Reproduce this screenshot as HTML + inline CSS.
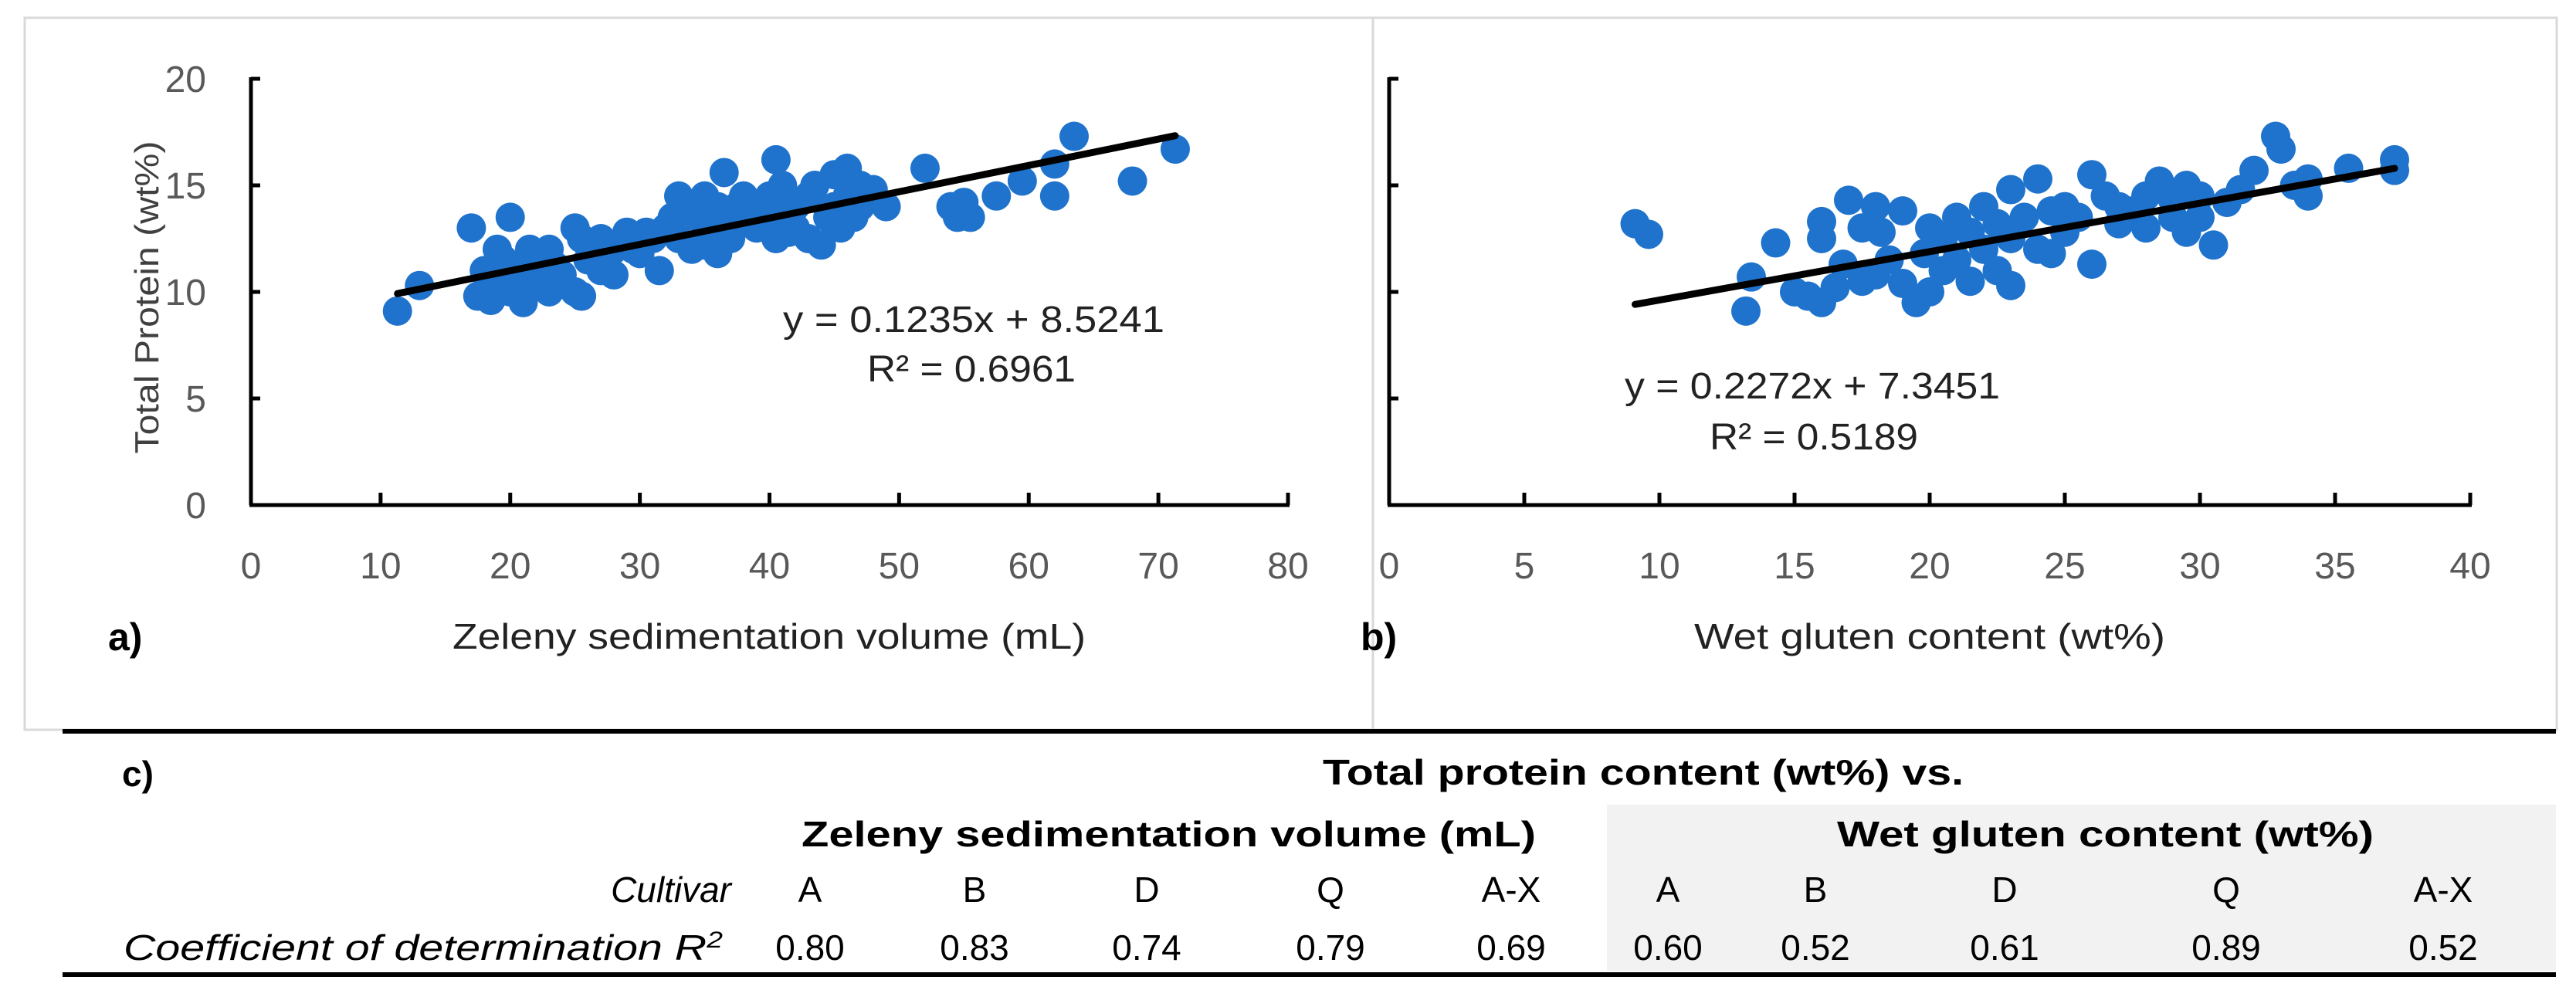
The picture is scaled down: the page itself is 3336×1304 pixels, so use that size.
<!DOCTYPE html>
<html><head><meta charset="utf-8">
<style>
html,body{margin:0;padding:0;background:#fff;}
svg{display:block;}
text{font-family:"Liberation Sans",sans-serif;}
</style></head>
<body>
<svg id="fig" width="3336" height="1304" viewBox="0 0 3336 1304" xmlns="http://www.w3.org/2000/svg">
  <rect x="32" y="23" width="1746" height="922" fill="none" stroke="#d9d9d9" stroke-width="3"/>
  <rect x="1778" y="23" width="1533" height="922" fill="none" stroke="#d9d9d9" stroke-width="3"/>
  <g id="chartA"></g>
  <g id="chartB"></g>

  <g>
    <rect x="81" y="944" width="3229" height="6" fill="#000"/>
    <rect x="2081" y="1042" width="1229" height="215" fill="#f2f2f2"/>
    <rect x="81" y="1259" width="3229" height="6" fill="#000"/>
    <text x="158" y="1018" font-size="46" font-weight="bold">c)</text>
    <text x="1713" y="1016" font-size="46" font-weight="bold" textLength="830" lengthAdjust="spacingAndGlyphs">Total protein content (wt%) vs.</text>
    <text x="1038" y="1096" font-size="46" font-weight="bold" textLength="951" lengthAdjust="spacingAndGlyphs">Zeleny  sedimentation  volume  (mL)</text>
    <text x="2379" y="1096" font-size="46" font-weight="bold" textLength="695" lengthAdjust="spacingAndGlyphs">Wet gluten content (wt%)</text>
    <text x="947" y="1168" font-size="46" font-style="italic" text-anchor="end">Cultivar</text>
    <text x="160" y="1243" font-size="46" font-style="italic" textLength="776" lengthAdjust="spacingAndGlyphs">Coefficient of determination R<tspan font-size="30" dy="-16">2</tspan></text>
    <g id="tableCells"></g>
  </g>
</svg>
<script>
// ---- Chart a data ----
const aX = [11.3,13,17,17.5,18,18,18.5,19,19,19.5,20,20,20.5,21,21,21.5,22,22,22.5,23,23,23.5,24,25,25,25.5,25.5,26,27,27,28,28,29,29.5,30,30.5,31,31.5,32,32.5,33,33,33.5,34,34,34.5,35,35,35.5,36,36,36.5,37,37,37.5,38,38,39,39,40,40,40.5,40.5,41,41,41.5,42,42,43,43,43.5,44,44.5,45,45,45.5,46,46,46.5,47,47,48,49,52,54,54.5,55,55.5,57.5,59.5,62,62,63.5,68,71.3];
const aY = [9.1,10.3,13,9.8,11,10,9.6,12,10.5,11.5,13.5,10,11,10.2,9.5,12,11,10.5,11.8,10,12,11.2,10.8,13,10,9.8,12.5,11.5,11,12.5,10.8,12,12.8,12,11.8,12.8,12.5,11,13,13.5,14.5,12.5,13.8,14,12,13.5,14.5,12.2,13,11.8,14,15.6,13,12.5,14,13.5,14.5,13.8,13,14.5,13.2,16.2,12.5,15,13.8,12.8,14,13,12.5,14.5,15,12.2,13.5,15.5,14,13,15.8,14.5,13.5,15,14,14.8,14,15.8,14,13.5,14.2,13.5,14.5,15.2,16,14.5,17.3,15.2,16.7];
const aSlope = 0.1235, aIntercept = 8.5241;
const aXTicks = [0,10,20,30,40,50,60,70,80];
const yTicks = [0,5,10,15,20];
// ---- Chart b data ----
const bX = [9.1,9.6,13.2,13.4,14.3,15,15.5,16,16,16,16.5,16.8,17,17.5,17.5,18,18,18.2,18.5,19,19,19.5,19.8,20,20,20.5,20.5,21,21,21.5,21.5,22,22,22.5,22.5,23,23,23,23.5,24,24,24.5,24.5,25,25,25.5,26,26,26.5,27,27,27.5,28,28,28.5,29,29,29.5,29.5,30,30,30.5,31,31.5,32,32.8,33,33.5,34,34,35.5,37.2,37.2];
const bY = [13.2,12.7,9.1,10.7,12.3,10,9.8,13.3,12.5,9.5,10.2,11.3,14.3,10.5,13,14,10.8,12.8,11.5,13.8,10.4,9.5,11.8,13,10,12.5,11,13.5,11.5,12.8,10.5,14,12,13.2,11,14.8,10.3,12.5,13.5,15.3,12,13.8,11.8,14,12.8,13.5,15.5,11.3,14.5,14,13.2,13.8,14.5,13,15.2,14.3,13.5,15,12.8,14.5,13.5,12.2,14.2,14.8,15.7,17.3,16.7,15,14.5,15.3,15.8,16.2,15.7];
const bSlope = 0.2272, bIntercept = 7.3451;
const bXTicks = [0,5,10,15,20,25,30,35,40];

const NS = 'http://www.w3.org/2000/svg';
function mk(parent, tag, attrs, txt){
  const e = document.createElementNS(NS, tag);
  for (const k in attrs) e.setAttribute(k, attrs[k]);
  if (txt !== undefined) e.textContent = txt;
  parent.appendChild(e);
  return e;
}

function drawChart(gid, cfg){
  const g = document.getElementById(gid);
  const sx = v => cfg.x0 + (v - cfg.xmin) / (cfg.xmax - cfg.xmin) * (cfg.x1 - cfg.x0);
  const sy = v => cfg.y0 - v / 20 * (cfg.y0 - cfg.y1);
  for (let i = 0; i < cfg.xs.length; i++){
    const c = mk(g, 'circle', {cx: sx(cfg.xs[i]), cy: sy(cfg.ys[i]), r: 19, fill: '#1f73cc'});
    
    
  }
  const xa = Math.min(...cfg.xs), xb = Math.max(...cfg.xs);
  const tl = mk(g, 'line', {x1: sx(xa), y1: sy(cfg.m*xa+cfg.b), x2: sx(xb), y2: sy(cfg.m*xb+cfg.b), stroke: '#000', 'stroke-width': 9, 'stroke-linecap': 'round'});
  
  
  const ya = mk(g, 'line', {x1: cfg.x0, y1: cfg.y1 - 2, x2: cfg.x0, y2: cfg.y0, stroke: '#000', 'stroke-width': 5});
  
  
  const xaL = mk(g, 'line', {x1: cfg.x0 - 2, y1: cfg.y0, x2: cfg.x1 + 2, y2: cfg.y0, stroke: '#000', 'stroke-width': 5});
  
  
  yTicks.forEach(t => {
    const tk = mk(g, 'line', {x1: cfg.x0, y1: sy(t), x2: cfg.x0 + 12, y2: sy(t), stroke: '#000', 'stroke-width': 5});
    
    
    if (cfg.yLabels){
      const lb = mk(g, 'text', {x: cfg.x0 - 58, y: sy(t) + 17, 'font-size': 48, fill: '#595959', 'text-anchor': 'end'}, String(t));
      
      
    }
  });
  cfg.ticks.forEach(t => {
    if (t !== cfg.xmin){
      const tk = mk(g, 'line', {x1: sx(t), y1: cfg.y0, x2: sx(t), y2: cfg.y0 - 16, stroke: '#000', 'stroke-width': 5});
      
      
    }
    const lb = mk(g, 'text', {x: sx(t), y: 749, 'font-size': 48, fill: '#595959', 'text-anchor': 'middle'}, String(t));
    
    
  });
}

drawChart('chartA', {x0: 325, x1: 1668, xmin: 0, xmax: 80, y0: 654, y1: 102, xs: aX, ys: aY, m: aSlope, b: aIntercept, ticks: aXTicks, yLabels: true});
drawChart('chartB', {x0: 1799, x1: 3199, xmin: 0, xmax: 40, y0: 654, y1: 102, xs: bX, ys: bY, m: bSlope, b: bIntercept, ticks: bXTicks, yLabels: false});

const fig = document.getElementById('fig');
function txt(attrs, s, name){
  const t = mk(fig, 'text', attrs, s);
  
  
  return t;
}
txt({x: 0, y: 0, 'font-size': 44, fill: '#404040', 'text-anchor': 'middle', textLength: 405, lengthAdjust: 'spacingAndGlyphs', transform: 'translate(205,385) rotate(-90)'}, 'Total Protein (wt%)', 'y-axis-title');
txt({x: 996, y: 840, 'font-size': 46, fill: '#222', 'text-anchor': 'middle', textLength: 820, lengthAdjust: 'spacingAndGlyphs'}, 'Zeleny sedimentation volume (mL)', 'x-axis-title-a');
txt({x: 2499, y: 840, 'font-size': 46, fill: '#222', 'text-anchor': 'middle', textLength: 610, lengthAdjust: 'spacingAndGlyphs'}, 'Wet gluten content (wt%)', 'x-axis-title-b');
txt({x: 140, y: 842, 'font-size': 50, 'font-weight': 'bold'}, 'a)', 'label-a');
txt({x: 1762, y: 842, 'font-size': 50, 'font-weight': 'bold'}, 'b)', 'label-b');
txt({x: 1014, y: 430, 'font-size': 48, fill: '#222', textLength: 494, lengthAdjust: 'spacingAndGlyphs'}, 'y = 0.1235x + 8.5241', 'equation-a');
txt({x: 1258, y: 494, 'font-size': 48, fill: '#222', 'text-anchor': 'middle', textLength: 270, lengthAdjust: 'spacingAndGlyphs'}, 'R² = 0.6961', 'r2-a');
txt({x: 2104, y: 516, 'font-size': 48, fill: '#222', textLength: 486, lengthAdjust: 'spacingAndGlyphs'}, 'y = 0.2272x + 7.3451', 'equation-b');
txt({x: 2349, y: 582, 'font-size': 48, fill: '#222', 'text-anchor': 'middle', textLength: 270, lengthAdjust: 'spacingAndGlyphs'}, 'R² = 0.5189', 'r2-b');

const cultivars = ['A','B','D','Q','A-X','A','B','D','Q','A-X'];
const r2vals = ['0.80','0.83','0.74','0.79','0.69','0.60','0.52','0.61','0.89','0.52'];
const colX = [1049,1262,1485,1723,1957,2160,2351,2596,2883,3164];
const tc = document.getElementById('tableCells');
cultivars.forEach((c, i) => {
  const t = mk(tc, 'text', {x: colX[i], y: 1168, 'font-size': 46, 'text-anchor': 'middle'}, c);
  
  
  const v = mk(tc, 'text', {x: colX[i], y: 1243, 'font-size': 46, 'text-anchor': 'middle'}, r2vals[i]);
  
  
});
</script>
</body></html>
